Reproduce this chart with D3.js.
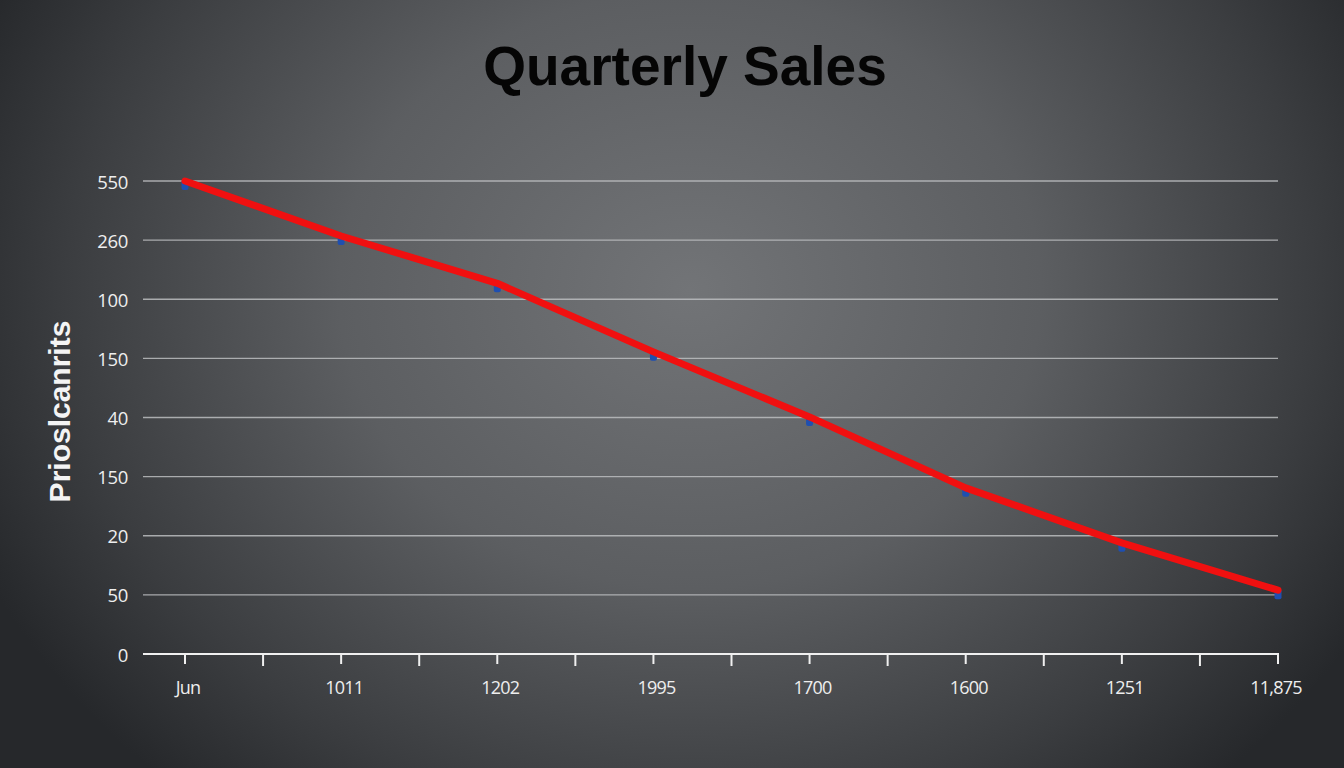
<!DOCTYPE html>
<html>
<head>
<meta charset="utf-8">
<script src="https://cdn.jsdelivr.net/npm/d3@7"></script>
<style>
html,body{margin:0;padding:0;background:#2e3033;overflow:hidden;}
svg{display:block;}
</style>
</head>
<body>
<svg id="chart" width="1344" height="768"></svg>
<script>
// ---- data ----
const title = "Quarterly Sales";
const yAxisTitle = "Prioslcanrits";
const categories = ["Jun","1011","1202","1995","1700","1600","1251","11,875"];
const yTickLabels = ["0","50","20","150","40","150","100","260","550"]; // bottom to top
const salesLevels = [8.0, 7.07, 6.27, 5.11, 4.01, 2.81, 1.88, 1.08]; // in grid-level units

// ---- layout ----
const W = 1344, H = 768;
const plotLeft = 143, plotRight = 1278, plotTop = 181, plotBottom = 654;
const firstX = 185;

const svg = d3.select("#chart");
const defs = svg.append("defs");
const grad = defs.append("radialGradient").attr("id","bg")
  .attr("gradientUnits","userSpaceOnUse")
  .attr("cx",690).attr("cy",290).attr("r",780)
  .attr("gradientTransform","translate(690,290) scale(1,0.85) translate(-690,-290)");
grad.append("stop").attr("offset","0%").attr("stop-color","#727477");
grad.append("stop").attr("offset","45%").attr("stop-color","#5c5e61");
grad.append("stop").attr("offset","80%").attr("stop-color","#3b3d40");
grad.append("stop").attr("offset","100%").attr("stop-color","#26282b");
svg.append("rect").attr("width",W).attr("height",H).attr("fill","url(#bg)");

// scales
const x = d3.scalePoint().domain(d3.range(categories.length)).range([firstX, plotRight]);
const xMinor = d3.scaleLinear().domain([0, categories.length - 1]).range([firstX, plotRight]);
const y = d3.scaleLinear().domain([0, yTickLabels.length - 1]).range([plotBottom, plotTop]);

// gridlines
const yTicks = d3.range(yTickLabels.length);
svg.append("g").selectAll("line").data(yTicks.filter(d => d > 0)).join("line")
  .attr("x1", plotLeft).attr("x2", plotRight)
  .attr("y1", d => y(d)).attr("y2", d => y(d))
  .attr("stroke", "#bcbec0").attr("stroke-width", 1.4).attr("opacity", 0.85);

// y axis labels
svg.append("g").selectAll("text").data(yTicks).join("text")
  .attr("x", 128).attr("y", d => y(d))
  .attr("text-anchor", "end").attr("dominant-baseline", "central")
  .attr("font-family", "'Open Sans', 'Noto Sans', sans-serif")
  .attr("font-size", 18.5).attr("fill", "#eeeeee")
  .attr("letter-spacing", -0.3)
  .text(d => yTickLabels[d]);

// x axis
const xAxisG = svg.append("g").attr("transform", `translate(0,${plotBottom})`);
xAxisG.append("line").attr("x1", plotLeft).attr("x2", plotRight + 1).attr("y1", 0).attr("y2", 0)
  .attr("stroke", "#f0f0f0").attr("stroke-width", 2);
const tickPos = d3.range(0, categories.length - 0.5, 0.5);
xAxisG.selectAll("line.tick").data(tickPos).join("line").attr("class","tick")
  .attr("x1", d => xMinor(d)).attr("x2", d => xMinor(d))
  .attr("y1", 0).attr("y2", d => (Number.isInteger(d) ? 10 : 12))
  .attr("stroke", "#f0f0f0").attr("stroke-width", 2);
xAxisG.selectAll("text").data(categories).join("text")
  .attr("x", (d, i) => x(i) + (i === categories.length - 1 ? -2 : 3))
  .attr("y", 40)
  .attr("text-anchor", "middle")
  .attr("font-family", "'Open Sans', 'Noto Sans', sans-serif")
  .attr("font-size", 18).attr("fill", "#eeeeee")
  .attr("letter-spacing", -0.8)
  .text(d => d);

// y axis title
svg.append("text")
  .attr("transform", `translate(70,${(plotTop + plotBottom) / 2 - 6}) rotate(-90)`)
  .attr("text-anchor", "middle")
  .attr("font-family", "'Liberation Sans', Arial, sans-serif")
  .attr("font-weight", "bold")
  .attr("font-size", 30).attr("fill", "#f4f4f4")
  .text(yAxisTitle);

// title
svg.append("text")
  .attr("x", 685).attr("y", 85)
  .attr("text-anchor", "middle")
  .attr("font-family", "'Liberation Sans', Arial, sans-serif")
  .attr("font-weight", "bold")
  .attr("font-size", 55).attr("fill", "#050505")
  .text(title);

// markers (blue, peeking below the red line)
svg.append("g").selectAll("rect").data(salesLevels).join("rect")
  .attr("x", (d, i) => x(i) - 3.5).attr("y", d => y(d) - 1)
  .attr("width", 7).attr("height", 10)
  .attr("rx", 2)
  .attr("fill", "#1f4fb0");

// red line
const line = d3.line().x((d, i) => x(i)).y(d => y(d));
svg.append("path").datum(salesLevels)
  .attr("d", line)
  .attr("fill", "none")
  .attr("stroke", "#f01010")
  .attr("stroke-width", 7)
  .attr("stroke-linejoin", "round")
  .attr("stroke-linecap", "round");
</script>
</body>
</html>
